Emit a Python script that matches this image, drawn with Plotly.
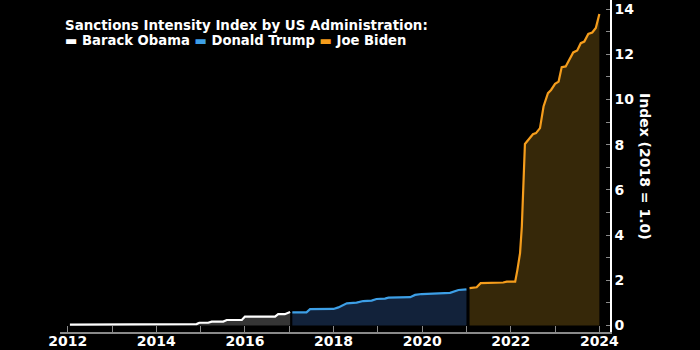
import plotly.graph_objects as go

# ---- data ----
obama_x = [2012.05, 2014.61, 2014.91, 2014.97, 2015.17, 2015.25, 2015.51, 2015.59, 2015.93, 2016.0,
           2016.68, 2016.75, 2016.9, 2017.02]
obama_y = [0.04, 0.04, 0.06, 0.12, 0.12, 0.17, 0.17, 0.24, 0.24, 0.39, 0.39, 0.50, 0.50, 0.60]

trump_x = [2017.07, 2017.39, 2017.47, 2018.0, 2018.11, 2018.30, 2018.52, 2018.67, 2018.86, 2018.97,
           2019.16, 2019.24, 2019.73, 2019.84, 2019.99, 2020.63, 2020.82, 2021.0]
trump_y = [0.58, 0.58, 0.72, 0.73, 0.80, 0.98, 1.01, 1.08, 1.10, 1.17,
           1.19, 1.23, 1.25, 1.35, 1.39, 1.44, 1.57, 1.60]

biden_x = [2021.07, 2021.23, 2021.32, 2021.83, 2021.91, 2022.10, 2022.15, 2022.21, 2022.25, 2022.28,
           2022.32, 2022.50, 2022.57, 2022.66, 2022.74, 2022.84, 2022.91, 2023.0, 2023.08, 2023.15,
           2023.24, 2023.41, 2023.50, 2023.58, 2023.66, 2023.75, 2023.84, 2023.92, 2024.0]
biden_y = [1.65, 1.69, 1.87, 1.90, 1.94, 1.94, 2.46, 3.2, 4.37, 5.85,
           8.03, 8.46, 8.51, 8.73, 9.69, 10.28, 10.42, 10.69, 10.79, 11.43,
           11.46, 12.08, 12.17, 12.49, 12.56, 12.90, 12.96, 13.16, 13.78]

x_tickvals = list(range(2012, 2025))
x_ticktext = [str(y) if y % 2 == 0 else "" for y in x_tickvals]
y_tickvals = [0, 2, 4, 6, 8, 10, 12, 14]

title_text = "Sanctions Intensity Index by US Administration:"
names = ["Barack Obama", "Donald Trump", "Joe Biden"]
y_title = "Index (2018 = 1.0)"

FONT = "DejaVu Sans"
line_colors = ["#ffffff", "#3d9fe6", "#f59d1c"]
fill_colors = ["#353535", "#12223a", "#362809"]

fig = go.Figure()
for xs, ys, lc, fc, nm in zip([obama_x, trump_x, biden_x], [obama_y, trump_y, biden_y],
                              line_colors, fill_colors, names):
    fig.add_trace(go.Scatter(x=xs, y=ys, mode="lines", name=nm,
                             line=dict(color=lc, width=2.2), fill="tozeroy", fillcolor=fc,
                             showlegend=False))

fig.update_layout(
    width=700, height=350,
    margin=dict(l=60, r=90, t=0, b=18, autoexpand=False),
    paper_bgcolor="#000000", plot_bgcolor="#000000",
    font=dict(family=FONT, color="#ffffff"),
    xaxis=dict(range=[2011.826, 2024.24], tickvals=x_tickvals, ticktext=x_ticktext,
               ticks="inside", ticklen=6, tickcolor="#8a8a8a", tickwidth=1,
               showline=True, linecolor="#8a8a8a", linewidth=1.5,
               showgrid=False, zeroline=False, automargin=False,
               ticklabelstandoff=-5,
               tickfont=dict(family=FONT, size=14, color="#ffffff", weight="bold")),
    yaxis=dict(range=[-0.29, 14.4], side="right", tickvals=y_tickvals,
               ticks="inside", ticklen=4, tickcolor="#8a8a8a",
               minor=dict(dtick=1, ticks="inside", ticklen=4, tickcolor="#8a8a8a"),
               showline=True, linecolor="#ffffff", linewidth=1.5,
               showgrid=False, zeroline=False, automargin=False,
               tickfont=dict(family=FONT, size=14, color="#ffffff", weight="bold")),
)

legend_html = (f"<span style='color:{line_colors[0]}'>▬</span> {names[0]} "
               f"<span style='color:{line_colors[1]}'>▬</span> {names[1]} "
               f"<span style='color:{line_colors[2]}'>▬</span> {names[2]}")

fig.add_annotation(xref="paper", yref="paper", x=3 / 550, y=(332 - 26) / 332,
                   xanchor="left", yanchor="middle", showarrow=False,
                   text=title_text, font=dict(family=FONT, size=13.4, color="#ffffff", weight="bold"))
fig.add_annotation(xref="paper", yref="paper", x=3 / 550, y=(332 - 40) / 332,
                   xanchor="left", yanchor="middle", showarrow=False,
                   text=legend_html, font=dict(family=FONT, size=13.2, color="#ffffff", weight="bold"))
fig.add_annotation(xref="paper", yref="paper", x=1 + 35 / 550, y=0.5,
                   xanchor="center", yanchor="middle", showarrow=False, textangle=90,
                   text=y_title, font=dict(family=FONT, size=14, color="#ffffff", weight="bold"))

fig.write_html("out.html")
